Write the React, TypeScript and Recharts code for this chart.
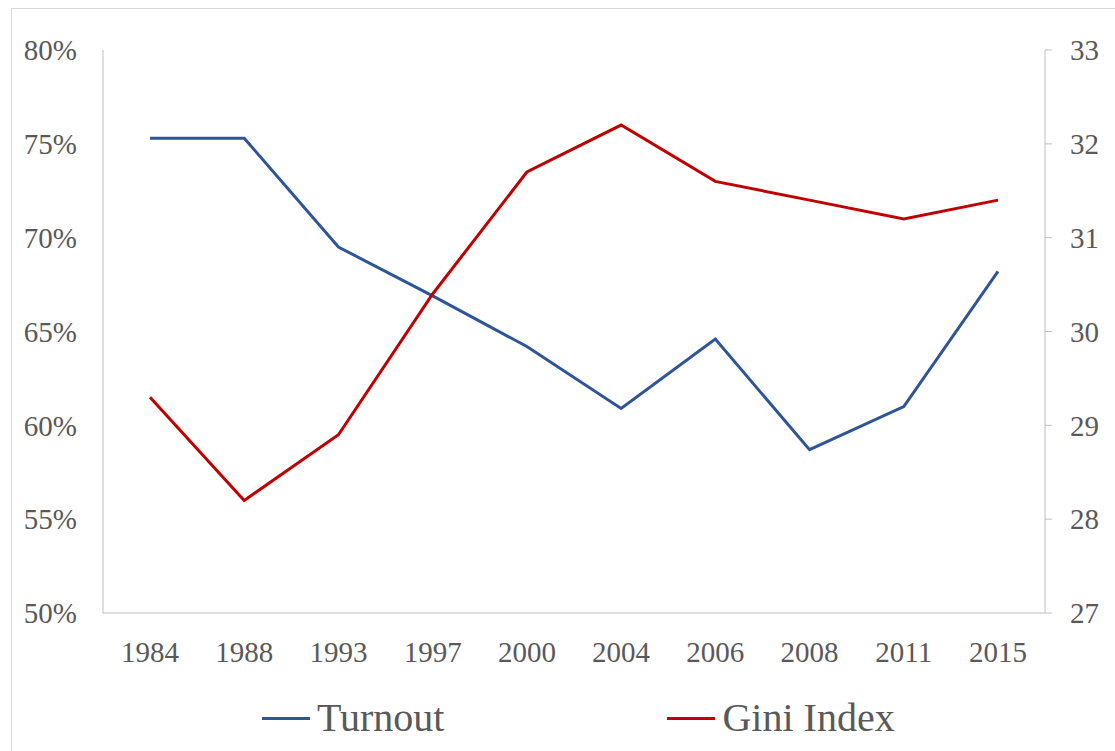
import { LineChart, Line, XAxis, YAxis, Legend } from "recharts";

const years = ["1984", "1988", "1993", "1997", "2000", "2004", "2006", "2008", "2011", "2015"];
const turnout = [0.753, 0.753, 0.695, 0.669, 0.642, 0.609, 0.646, 0.587, 0.61, 0.682];
const gini = [29.3, 28.2, 28.9, 30.4, 31.7, 32.2, 31.6, 31.4, 31.2, 31.4];
const leftTicks = [0.5, 0.55, 0.6, 0.65, 0.7, 0.75, 0.8];
const rightTicks = [27, 28, 29, 30, 31, 32, 33];
const seriesOrder = ["Turnout", "Gini Index"];

const data = years.map((year, i) => ({ year, turnout: turnout[i], gini: gini[i] }));

const FONT = '"Liberation Serif", "Times New Roman", serif';
const TEXT = "#595959";
const AXIS = "#bfbfbf";

const tickStyle = { fontSize: 29, fill: TEXT, fontFamily: FONT };

function LegendBox(props: any) {
  const items = [...(props.payload || [])].sort(
    (a: any, b: any) => seriesOrder.indexOf(a.value) - seriesOrder.indexOf(b.value)
  );
  return (
    <div style={{ display: "flex", alignItems: "center", height: 68, paddingTop: 2, boxSizing: "border-box" }}>
      {items.map((item: any, i: number) => (
        <div
          key={item.value}
          style={{ display: "flex", alignItems: "center", marginLeft: i === 0 ? 250 : 223 }}
        >
          <div style={{ width: 48, height: 3, background: item.color, marginRight: 7 }} />
          <span style={{ fontSize: 40, color: TEXT, fontFamily: FONT, lineHeight: 1 }}>{item.value}</span>
        </div>
      ))}
    </div>
  );
}

export default function App() {
  return (
    <div
      style={{
        position: "absolute",
        left: 11,
        top: 8,
        width: 1104,
        height: 743,
        borderTop: "1px solid #d9d9d9",
        borderLeft: "1px solid #d9d9d9",
        boxSizing: "border-box",
        background: "#fff",
        overflow: "hidden",
      }}
    >
      <LineChart width={1103} height={742} data={data} margin={{ top: 41, right: 0, left: 0, bottom: 0 }}>
        <XAxis
          dataKey="year"
          padding={{ left: 47, right: 47 }}
          height={70}
          stroke={AXIS}
          tickLine={false}
          tickSize={0}
          tickMargin={28}
          tick={tickStyle}
          interval={0}
        />
        <YAxis
          yAxisId="left"
          domain={[0.5, 0.8]}
          ticks={leftTicks}
          width={91}
          stroke={AXIS}
          tickLine={false}
          tickSize={0}
          tickMargin={26}
          tick={tickStyle}
          tickFormatter={(v: number) => `${Math.round(v * 100)}%`}
          allowDataOverflow
        />
        <YAxis
          yAxisId="right"
          orientation="right"
          domain={[27, 33]}
          ticks={rightTicks}
          width={70}
          stroke={AXIS}
          tickSize={7}
          tickMargin={18}
          tick={tickStyle}
          allowDataOverflow
        />
        <Legend verticalAlign="bottom" height={68} content={<LegendBox />} />
        <Line
          yAxisId="left"
          type="linear"
          dataKey="turnout"
          name="Turnout"
          stroke="#2f5597"
          strokeWidth={3}
          dot={false}
          isAnimationActive={false}
        />
        <Line
          yAxisId="right"
          type="linear"
          dataKey="gini"
          name="Gini Index"
          stroke="#c00000"
          strokeWidth={3}
          dot={false}
          isAnimationActive={false}
        />
      </LineChart>
    </div>
  );
}
